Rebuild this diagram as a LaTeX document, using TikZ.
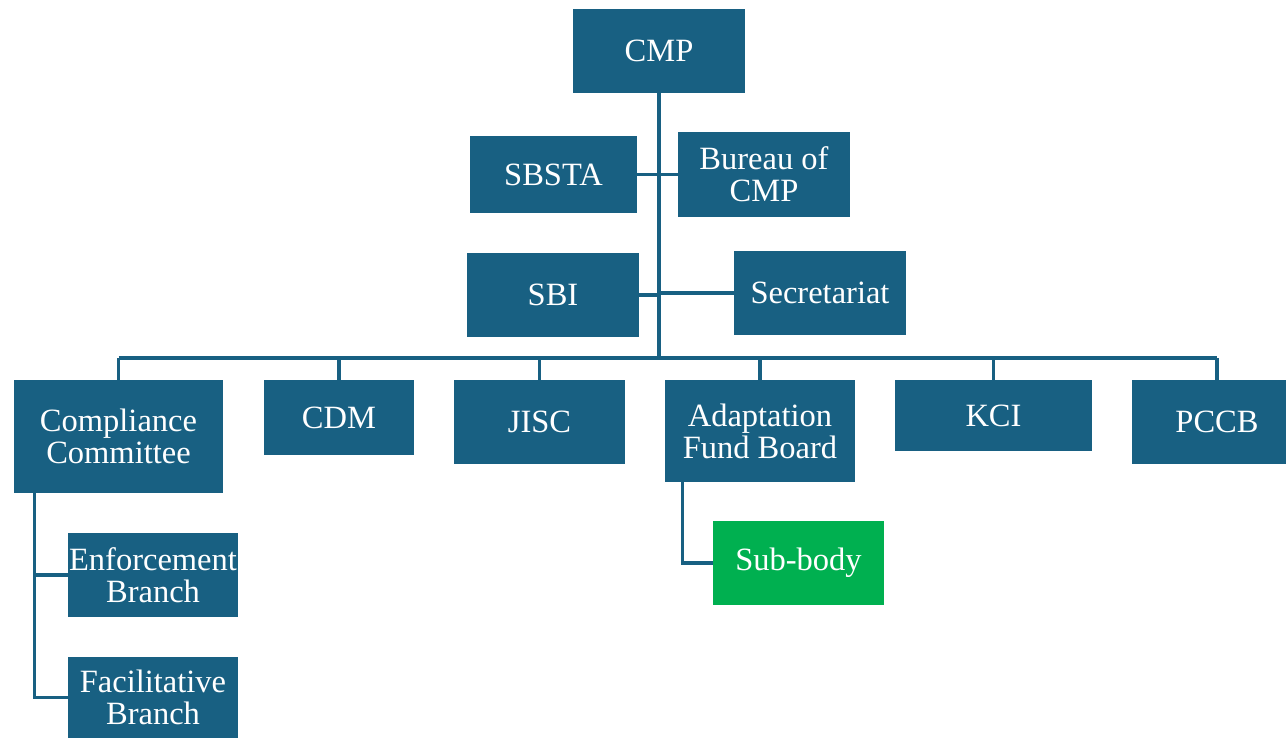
\documentclass[tikz,border=0pt]{standalone}
\usepackage{fontspec}
\setmainfont{Liberation Serif}
\definecolor{orgblue}{RGB}{24,96,130}
\definecolor{orggreen}{RGB}{0,176,80}
\begin{document}
\begin{tikzpicture}[x=0.02cm, y=-0.02cm,
    body/.style={shape=rectangle, fill=orgblue, text=white, inner sep=0pt, align=center,
        font=\fontsize{18.5}{18.2}\selectfont, minimum width=3.44cm, minimum height=1.68cm},
    link/.style={draw=orgblue, line width=2pt}]
    \useasboundingbox (0,0) rectangle (1286,738);
    \node[body] (cmp) at (659,51) {CMP};
    \node[body, minimum width=3.34cm, minimum height=1.54cm] (sbsta) at (553.5,174.5) {SBSTA};
    \node[body, minimum height=1.70cm] (bureau) at (764,174.5) {Bureau of\\CMP};
    \node[body] (sbi) at (553,295) {SBI};
    \node[body] (secretariat) at (820,293) {Secretariat};
    \node[body, minimum width=4.18cm, minimum height=2.26cm] (compliance) at (118.5,436.5) {Compliance\\Committee};
    \node[body, minimum width=3.00cm, minimum height=1.50cm] (cdm) at (339,417.5) {CDM};
    \node[body, minimum width=3.42cm] (jisc) at (539.5,422) {JISC};
    \node[body, minimum width=3.80cm, minimum height=2.04cm] (afb) at (760,431) {Adaptation\\Fund Board};
    \node[body, minimum width=3.94cm, minimum height=1.42cm] (kci) at (993.5,415.5) {KCI};
    \node[body, minimum width=3.40cm] (pccb) at (1217,422) {PCCB};
    \node[body, minimum width=3.40cm] (enforcement) at (153,575) {Enforcement\\Branch};
    \node[body, minimum width=3.40cm, minimum height=1.62cm] (facilitative) at (153,697.5) {Facilitative\\Branch};
    \node[body, fill=orggreen, minimum width=3.42cm] (subbody) at (798.5,563) {Sub-body};
    \coordinate (bus) at (659,358);

    % trunk and bus
    \path[link] (cmp.south) -- (bus);
    \path[link] (compliance.north |- bus) -- (pccb.north |- bus);
    \foreach \n in {compliance,cdm,jisc,afb,kci,pccb}
        \path[link] (\n.north |- bus) -- (\n.north);

    % side bodies
    \path[link] (sbsta) -- (bureau);
    \path[link] (sbi.east) -- (sbi.east -| bus);
    \path[link] (secretariat.west) -- (secretariat.west -| bus);

    % branches
    \path[link] ([xshift=0.42cm]compliance.south west) |- (enforcement.west);
    \path[link] ([xshift=0.42cm]compliance.south west) |- (facilitative.west);
    \path[link] ([xshift=0.36cm]afb.south west) |- (subbody.west);
\end{tikzpicture}
\end{document}
